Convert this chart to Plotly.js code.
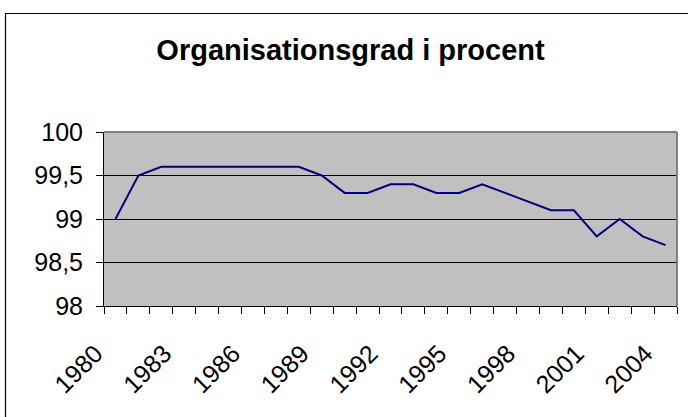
<!DOCTYPE html>
<html>
<head>
<meta charset="utf-8">
<script src="https://cdn.plot.ly/plotly-3.0.1.min.js"></script>
<style>
  html, body { margin: 0; padding: 0; background: #fff; }
  #chart { width: 688px; height: 417px; }
</style>
</head>
<body>
<div id="chart"></div>
<script>
// ---- Data ----
const years = [1980, 1981, 1982, 1983, 1984, 1985, 1986, 1987, 1988, 1989,
               1990, 1991, 1992, 1993, 1994, 1995, 1996, 1997, 1998, 1999,
               2000, 2001, 2002, 2003, 2004];
const organisationsgrad = [99.0, 99.5, 99.6, 99.6, 99.6, 99.6, 99.6, 99.6, 99.6, 99.5,
                           99.3, 99.3, 99.4, 99.4, 99.3, 99.3, 99.4, 99.3, 99.2, 99.1,
                           99.1, 98.8, 99.0, 98.8, 98.7];
const xTickYears = [1980, 1983, 1986, 1989, 1992, 1995, 1998, 2001, 2004];
const xTickLabels = ['1980', '1983', '1986', '1989', '1992', '1995', '1998', '2001', '2004'];
const yTickVals = [98, 98.5, 99, 99.5, 100];
const yTickLabels = ['98', '98,5', '99', '99,5', '100'];
const titleText = 'Organisationsgrad i procent';

// category boundaries for the small tick marks
const boundaries = years.map(y => y - 0.5).concat([years[years.length - 1] + 0.5]);

const font = 'Liberation Sans, Arial, sans-serif';
const L = 104, R = 677, T = 132, B = 306, W = 688, H = 417;
const pw = R - L, ph = B - T;
const px = v => (v - L) / pw;
const py = v => (B - v) / ph;

const traces = [
  {
    x: years,
    y: organisationsgrad,
    type: 'scatter',
    mode: 'lines',
    line: { color: '#000080', width: 2 },
    xaxis: 'x', yaxis: 'y',
    hoverinfo: 'x+y',
    showlegend: false
  },
  {
    x: [boundaries[0], boundaries[boundaries.length - 1]],
    y: [98, 98],
    type: 'scatter',
    mode: 'lines',
    line: { color: 'rgba(0,0,0,0)', width: 0 },
    xaxis: 'x2', yaxis: 'y',
    hoverinfo: 'skip',
    showlegend: false
  }
];

const xr = [boundaries[0], boundaries[boundaries.length - 1]];

const layout = {
  width: W, height: H,
  margin: { l: L, r: W - R, t: T, b: H - B, pad: 0 },
  paper_bgcolor: '#ffffff',
  plot_bgcolor: '#c0c0c0',
  separators: ', ',
  showlegend: false,
  title: {
    text: titleText,
    font: { family: font, size: 29, color: '#000', weight: 'bold' },
    xref: 'paper', x: px(350.5), xanchor: 'center',
    yref: 'container', y: 1 - 50 / H, yanchor: 'middle'
  },
  xaxis: {
    type: 'linear',
    range: xr,
    tickmode: 'array',
    tickvals: xTickYears,
    ticktext: xTickLabels,
    tickangle: -45,
    ticks: '',
    ticklen: 0,
    showgrid: false,
    zeroline: false,
    showline: true,
    linecolor: '#000',
    linewidth: 1,
    tickfont: { family: font, size: 25, color: '#000' },
    ticklabelstandoff: 22,
    ticklabelshift: -20,
    fixedrange: true
  },
  xaxis2: {
    type: 'linear',
    range: xr,
    overlaying: 'x',
    anchor: 'y',
    side: 'bottom',
    tickmode: 'array',
    tickvals: boundaries,
    showticklabels: false,
    ticks: 'outside',
    ticklen: 7,
    tickwidth: 1,
    tickcolor: '#000',
    showgrid: false,
    zeroline: false,
    showline: false,
    fixedrange: true
  },
  yaxis: {
    range: [98, 100],
    tickmode: 'array',
    tickvals: yTickVals,
    ticktext: yTickLabels,
    ticks: 'outside',
    ticklen: 7,
    tickwidth: 1,
    tickcolor: '#000',
    showgrid: true,
    gridcolor: '#000',
    gridwidth: 1,
    zeroline: false,
    showline: true,
    linecolor: '#000',
    linewidth: 1,
    tickfont: { family: font, size: 25, color: '#000' },
    ticklabelstandoff: 8,
    fixedrange: true
  },
  shapes: [
    { type: 'line', xref: 'paper', yref: 'paper', x0: 0, x1: 1, y0: 1, y1: 1,
      line: { color: '#808080', width: 2 }, layer: 'above' },
    { type: 'line', xref: 'paper', yref: 'paper', x0: 1, x1: 1, y0: 0, y1: 1,
      line: { color: '#808080', width: 2 }, layer: 'above' },
    { type: 'rect', xref: 'paper', yref: 'paper',
      x0: px(5.5), x1: px(700), y0: py(430), y1: py(13.5),
      line: { color: '#000', width: 1.2 }, fillcolor: 'rgba(0,0,0,0)', layer: 'above' }
  ]
};

Plotly.newPlot('chart', traces, layout, { displayModeBar: false, staticPlot: true });
</script>
</body>
</html>
